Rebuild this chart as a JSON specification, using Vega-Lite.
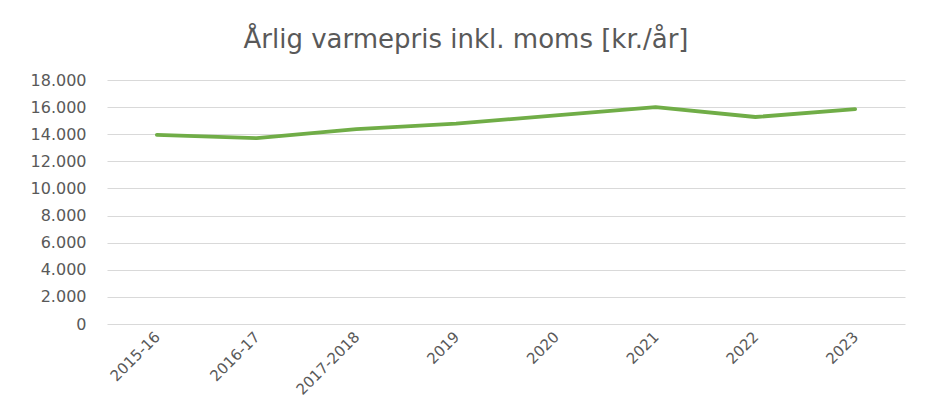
{
  "$schema": "https://vega.github.io/schema/vega-lite/v6.json",
  "width": 798,
  "height": 244,
  "autosize": {"type": "none"},
  "padding": {"left": 107, "top": 80, "right": 26, "bottom": 88},
  "background": "white",
  "title": {
    "text": "Årlig varmepris inkl. moms [kr./år]",
    "font": "DejaVu Sans",
    "fontSize": 26,
    "fontWeight": "normal",
    "color": "#595959",
    "anchor": "middle",
    "dx": -40,
    "offset": 19
  },
  "data": {
    "values": [
      {"periode": "2015-16", "pris": 13950},
      {"periode": "2016-17", "pris": 13710},
      {"periode": "2017-2018", "pris": 14370},
      {"periode": "2019", "pris": 14780},
      {"periode": "2020", "pris": 15390},
      {"periode": "2021", "pris": 16000},
      {"periode": "2022", "pris": 15270},
      {"periode": "2023", "pris": 15850}
    ]
  },
  "mark": {"type": "line", "color": "#70AD47", "strokeWidth": 3.8, "strokeCap": "round", "strokeJoin": "round"},
  "encoding": {
    "x": {
      "field": "periode",
      "type": "ordinal",
      "sort": null,
      "scale": {"type": "point", "padding": 0.5},
      "axis": {
        "title": null,
        "labelAngle": -45,
        "labelAlign": "right",
        "labelBaseline": "middle",
        "labelFont": "DejaVu Sans",
        "labelFontSize": 15,
        "labelColor": "#595959",
        "labelPadding": 10,
        "ticks": false,
        "domain": false,
        "grid": false
      }
    },
    "y": {
      "field": "pris",
      "type": "quantitative",
      "scale": {"domain": [0, 18000], "nice": false},
      "axis": {
        "title": null,
        "values": [0, 2000, 4000, 6000, 8000, 10000, 12000, 14000, 16000, 18000],
        "labelExpr": "replace(format(datum.value, ','), ',', '.')",
        "labelFont": "DejaVu Sans",
        "labelFontSize": 16,
        "labelColor": "#595959",
        "labelPadding": 21,
        "ticks": false,
        "domain": false,
        "grid": true,
        "gridColor": "#d9d9d9",
        "gridWidth": 1
      }
    }
  },
  "config": {
    "view": {"stroke": null}
  }
}
